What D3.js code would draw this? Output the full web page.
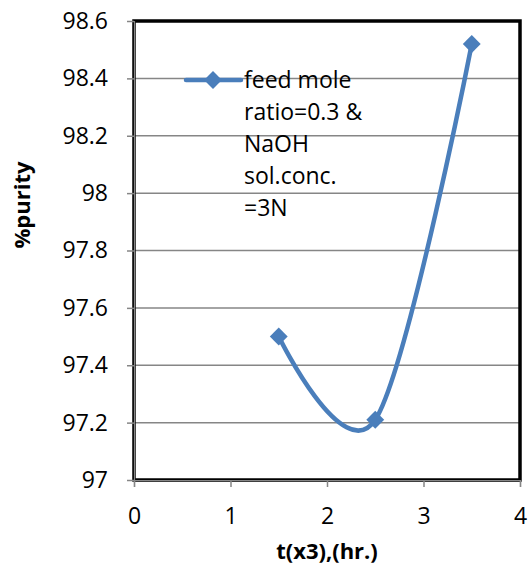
<!DOCTYPE html>
<html>
<head>
<meta charset="utf-8">
<script src="https://cdn.jsdelivr.net/npm/d3@7"></script>
<style>
  html, body { margin: 0; padding: 0; background: #fff; }
  svg text { font-family: "Open Sans", "Liberation Sans", sans-serif; fill: #000; }
</style>
</head>
<body>
<svg id="chart" width="529" height="567"></svg>
<script>
// Purity vs. time for one feed condition
const times = [1.5, 2.5, 3.5];
const purity = [97.5, 97.21, 98.52];
const xTicks = [0, 1, 2, 3, 4];
const yTicks = [97, 97.2, 97.4, 97.6, 97.8, 98, 98.2, 98.4, 98.6];
const legendLines = ["feed mole", "ratio=0.3 &", "NaOH", "sol.conc.", "=3N"];
const xTitle = "t(x3),(hr.)";
const yTitle = "%purity";

const svg = d3.select("#chart");
const plot = { left: 134, right: 520, top: 21, bottom: 480 };

const x = d3.scaleLinear().domain([0, 4]).range([plot.left, plot.right]);
const y = d3.scaleLinear().domain([97, 98.6]).range([plot.bottom, plot.top]);

const blue = "#4a7ebb";
const grey = "#868686";

// horizontal gridlines
svg.append("g")
  .selectAll("line")
  .data(yTicks.slice(1))
  .join("line")
  .attr("x1", plot.left).attr("x2", plot.right)
  .attr("y1", d => y(d)).attr("y2", d => y(d))
  .attr("stroke", grey).attr("stroke-width", 1.5);

// plot-area frame
svg.append("rect")
  .attr("x", plot.left).attr("y", plot.top)
  .attr("width", plot.right - plot.left).attr("height", plot.bottom - plot.top)
  .attr("fill", "none").attr("stroke", "#000").attr("stroke-width", 3.5);

// y axis
const yAxis = d3.axisLeft(y).tickValues(yTicks).tickSize(7).tickPadding(19)
  .tickFormat(d => d3.format("")(+d.toFixed(1)));
const gy = svg.append("g").attr("transform", `translate(${plot.left},0)`).call(yAxis);
gy.select(".domain").attr("stroke", grey).attr("stroke-width", 1.2);
gy.selectAll(".tick line").attr("stroke", grey).attr("stroke-width", 1.5);
gy.selectAll(".tick text").attr("font-size", 23).attr("font-family", "Open Sans");

// x axis
const xAxis = d3.axisBottom(x).tickValues(xTicks).tickSize(7).tickPadding(21)
  .tickFormat(d3.format("d"));
const gx = svg.append("g").attr("transform", `translate(0,${plot.bottom})`).call(xAxis);
gx.select(".domain").attr("stroke", grey).attr("stroke-width", 1.2);
gx.selectAll(".tick line").attr("stroke", grey).attr("stroke-width", 1.5);
gx.selectAll(".tick text").attr("font-size", 23).attr("font-family", "Open Sans");

// axis titles
svg.append("text")
  .attr("x", 327).attr("y", 559)
  .attr("text-anchor", "middle")
  .attr("font-size", 22).attr("font-weight", "bold")
  .text(xTitle);

svg.append("text")
  .attr("transform", "translate(30,205) rotate(-90)")
  .attr("text-anchor", "middle")
  .attr("font-size", 22).attr("font-weight", "bold")
  .text(yTitle);

// smoothed series line
const pts = times.map((t, i) => [t, purity[i]]);
const line = d3.line()
  .x(d => x(d[0])).y(d => y(d[1]))
  .curve(d3.curveCardinal.tension(0));

svg.append("path")
  .datum(pts)
  .attr("d", line)
  .attr("fill", "none")
  .attr("stroke", blue).attr("stroke-width", 4.5)
  .attr("stroke-linecap", "round");

const diamond = d3.symbol().type(d3.symbolSquare).size(160);
svg.append("g")
  .selectAll("path")
  .data(pts)
  .join("path")
  .attr("d", diamond)
  .attr("transform", d => `translate(${x(d[0])},${y(d[1])}) rotate(45)`)
  .attr("fill", blue);

// legend
const lg = svg.append("g");
lg.append("line")
  .attr("x1", 186).attr("x2", 241).attr("y1", 80).attr("y2", 80)
  .attr("stroke", blue).attr("stroke-width", 4.5).attr("stroke-linecap", "round");
lg.append("path")
  .attr("d", diamond)
  .attr("transform", "translate(213,80) rotate(45)")
  .attr("fill", blue);
lg.selectAll("text")
  .data(legendLines)
  .join("text")
  .attr("x", 244)
  .attr("y", (d, i) => 88 + i * 32)
  .attr("font-size", 23)
  .text(d => d);
</script>
</body>
</html>
